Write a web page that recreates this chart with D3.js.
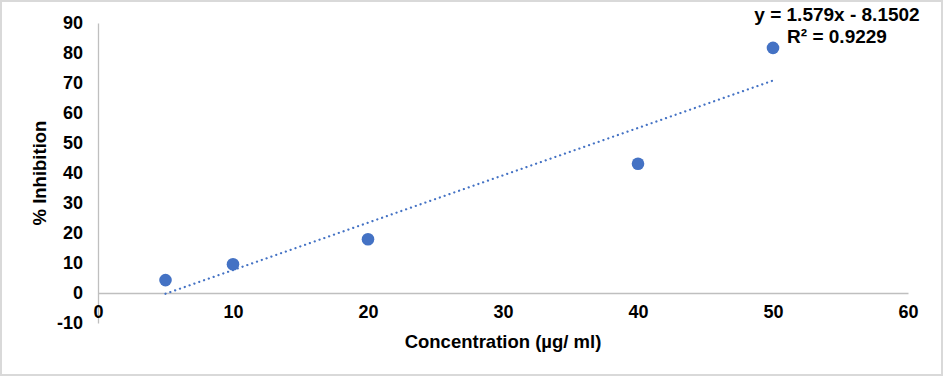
<!DOCTYPE html>
<html>
<head>
<meta charset="utf-8">
<script src="https://cdn.jsdelivr.net/npm/d3@7"></script>
<style>
  body { margin: 0; background: #fff; }
  svg text { font-family: "Liberation Sans", Arial, sans-serif; font-weight: bold; fill: #000; }
</style>
</head>
<body>
<div id="chart_wrapper"></div>
<script>
// data
var concentration = [5, 10, 20, 40, 50];
var inhibition = [4.3, 9.6, 17.9, 43.1, 81.7];
var xTicks = [0, 10, 20, 30, 40, 50, 60];
var yTicks = [-10, 0, 10, 20, 30, 40, 50, 60, 70, 80, 90];
var slope = 1.579, intercept = -8.1502;
var eqLines = ["y = 1.579x - 8.1502", "R² = 0.9229"];

var width = 943, height = 376;
var margin = {left: 98, right: 35, top: 23, bottom: 53};

var svg = d3.select("#chart_wrapper").append("svg")
    .attr("width", width).attr("height", height);

// outer frame
svg.append("rect").attr("x", 1).attr("y", 1)
    .attr("width", width - 2).attr("height", height - 2)
    .attr("fill", "#fff").attr("stroke", "#d9d9d9").attr("stroke-width", 2);

var x = d3.scaleLinear().domain([0, 60]).range([margin.left, width - margin.right]);
var y = d3.scaleLinear().domain([-10, 90]).range([height - margin.bottom, margin.top]);

// y axis line + labels (plain hyphen like Excel)
var yAxis = svg.append("g")
    .attr("transform", "translate(" + margin.left + ",0)")
    .call(d3.axisLeft(y).tickValues(yTicks).tickSize(0).tickPadding(15).tickFormat((d) => String(d)));
yAxis.select(".domain").attr("stroke", "#bfbfbf").attr("stroke-width", 1.3);
yAxis.selectAll("text").style("font-size", "18px");

// x axis drawn at y = 0
var xAxis = svg.append("g")
    .attr("transform", "translate(0," + y(0) + ")")
    .call(d3.axisBottom(x).tickValues(xTicks).tickSize(0).tickPadding(12));
xAxis.select(".domain").attr("stroke", "#bfbfbf").attr("stroke-width", 1.3);
xAxis.selectAll("text").style("font-size", "18px");

// trendline
var tx = d3.extent(concentration);
svg.append("line")
    .attr("x1", x(tx[0])).attr("y1", y(slope * tx[0] + intercept))
    .attr("x2", x(tx[1])).attr("y2", y(slope * tx[1] + intercept))
    .attr("stroke", "#4472c4").attr("stroke-width", 2.2)
    .attr("stroke-dasharray", "0.1 5").attr("stroke-linecap", "round");

// points
svg.selectAll(".pt").data(concentration).enter().append("circle")
    .attr("class", "pt")
    .attr("cx", (d) => x(d))
    .attr("cy", (d, i) => y(inhibition[i]))
    .attr("r", 6.3)
    .attr("fill", "#4472c4");

// equation label
svg.selectAll(".eq").data(eqLines).enter().append("text")
    .attr("class", "eq")
    .attr("x", 837).attr("y", (d, i) => 21 + i * 22)
    .attr("text-anchor", "middle")
    .style("font-size", "19px")
    .text((d) => d);

// axis titles
svg.append("text")
    .attr("x", 503).attr("y", 348)
    .attr("text-anchor", "middle").style("font-size", "18.5px")
    .text("Concentration (µg/ ml)");

svg.append("text")
    .attr("transform", "translate(46,173) rotate(-90)")
    .attr("text-anchor", "middle").style("font-size", "18.5px")
    .text("% Inhibition");
</script>
</body>
</html>
